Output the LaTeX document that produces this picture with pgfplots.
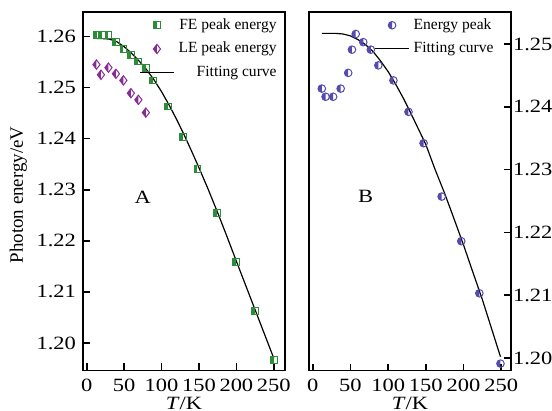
\documentclass[border=0pt]{standalone}
\usepackage{fontspec}
\setmainfont[FakeStretch=1.2]{Liberation Serif}
\newfontfamily\plainserif{Liberation Serif}
\usepackage{pgfplots}
\pgfplotsset{compat=1.18}

\definecolor{feg}{RGB}{45,140,55}
\definecolor{lep}{RGB}{135,45,150}
\definecolor{epb}{RGB}{85,75,175}

% marks with the left half filled
\pgfdeclareplotmark{lsquare}{%
  \pgfpathrectangle{\pgfqpoint{-\pgfplotmarksize}{-\pgfplotmarksize}}{\pgfqpoint{\pgfplotmarksize}{2\pgfplotmarksize}}%
  \pgfusepathqfill
  \pgfpathrectangle{\pgfqpoint{-\pgfplotmarksize}{-\pgfplotmarksize}}{\pgfqpoint{2\pgfplotmarksize}{2\pgfplotmarksize}}%
  \pgfusepathqstroke}
\pgfdeclareplotmark{ldiamond}{%
  \pgfpathmoveto{\pgfqpoint{0pt}{1.3\pgfplotmarksize}}%
  \pgfpathlineto{\pgfqpoint{-\pgfplotmarksize}{0pt}}%
  \pgfpathlineto{\pgfqpoint{0pt}{-1.3\pgfplotmarksize}}%
  \pgfpathclose\pgfusepathqfill
  \pgfpathmoveto{\pgfqpoint{0pt}{1.3\pgfplotmarksize}}%
  \pgfpathlineto{\pgfqpoint{-\pgfplotmarksize}{0pt}}%
  \pgfpathlineto{\pgfqpoint{0pt}{-1.3\pgfplotmarksize}}%
  \pgfpathlineto{\pgfqpoint{\pgfplotmarksize}{0pt}}%
  \pgfpathclose\pgfusepathqstroke}
\pgfdeclareplotmark{lcircle}{%
  \pgfpathmoveto{\pgfqpoint{0pt}{\pgfplotmarksize}}%
  \pgfpatharc{90}{270}{\pgfplotmarksize}%
  \pgfpathclose\pgfusepathqfill
  \pgfpathcircle{\pgfpointorigin}{\pgfplotmarksize}%
  \pgfusepathqstroke}

\pgfplotsset{
  panel/.style={
    scale only axis, width=101bp, height=179.25bp,
    xtick={0,50,...,250},
    tick align=inside, xtick pos=bottom,
    major tick length=3.5bp,
    axis line style={line width=0.9pt},
    every tick/.style={black, line width=0.8pt},
    tick label style={font=\fontsize{9.4}{10}\selectfont},
    xticklabel style={yshift=-1bp},
    label style={font=\fontsize{9.4}{11}\selectfont},
    /pgf/number format/assume math mode=true,
    yticklabel style={/pgf/number format/.cd, fixed, fixed zerofill, precision=2, /tikz/.cd},
    legend style={draw=none, fill=none, font=\plainserif\fontsize{7.8}{8.5}\selectfont,
      row sep=1bp, inner sep=1pt, anchor=north east},
    xlabel={\textit{T}/K},
    xlabel style={yshift=4.5bp},
  },
  fitline/.style={black, line width=0.6pt, no marks},
}

\begin{document}
\begin{tikzpicture}
% panel A
\begin{axis}[panel, at={(41.5bp,20.25bp)}, anchor=south west,
  xmin=-5, xmax=265, ymin=1.1946, ymax=1.2648,
  ytick={1.20,1.21,...,1.265}, ytick pos=left,
  ylabel={Photon energy/eV},
  ylabel style={font=\plainserif\fontsize{9.5}{11}\selectfont,
    at={(axis description cs:-0.32,0.49)}, anchor=center},
  legend style={at={(0.99,1.0)}},
  legend cell align=right,
]
\addplot[only marks, mark=lsquare, mark size=1.7bp,
  mark options={draw=feg, fill=feg, line width=0.5pt}]
  coordinates {
  (14,1.2603) (20,1.2603) (29,1.2603) (39,1.2589) (49,1.2576) (59,1.2564)
  (69,1.2551) (79,1.2539) (89,1.2514) (109,1.2463) (129,1.2404) (148,1.2340)
  (174,1.2255) (199,1.2159) (225,1.2062) (250,1.1967)
  };
\addlegendentry{FE peak energy}
\addplot[only marks, mark=ldiamond, mark size=1.8bp,
  mark options={draw=lep, fill=lep, line width=0.5pt}]
  coordinates {
  (13,1.2545) (19,1.2525) (29,1.2539) (39,1.2527) (49,1.2514) (59,1.2489)
  (69,1.2476) (79,1.2451)
  };
\addlegendentry{LE peak energy}
\addplot[fitline] coordinates {
  (13,1.2596) (20,1.2596) (30,1.2595) (40,1.2590) (50,1.2580) (60,1.2567)
  (70,1.2552) (80,1.2535) (90,1.2515) (100,1.2492) (110,1.2466) (120,1.2438)
  (130,1.2408) (140,1.2376) (150,1.2343) (162,1.2302) (175,1.2255) (187,1.2210)
  (200,1.2160) (225,1.2065) (250,1.1970)
  };
\addlegendentry{Fitting curve}
\node[font=\fontsize{9.4}{11}\selectfont] at (axis cs:75,1.2286) {A};
\end{axis}
% panel B
\begin{axis}[panel, at={(154.5bp,20.25bp)}, anchor=south west,
  xmin=-5, xmax=263, ymin=1.198, ymax=1.2551,
  ytick={1.20,1.21,...,1.255}, ytick pos=right, yticklabel pos=right,
  yticklabel style={xshift=-2.5bp},
  legend style={at={(0.945,1.0)}},
  legend cell align=left,
]
\addplot[only marks, mark=lcircle, mark size=1.9bp,
  mark options={draw=epb, fill=epb, line width=0.5pt}]
  coordinates {
  (12,1.2429) (17,1.2416) (27,1.2416) (37,1.2429) (47,1.2454) (52,1.2491)
  (57,1.2516) (67,1.2503) (77,1.2491) (87,1.2466) (107,1.2442) (127,1.2392)
  (147,1.2342) (171,1.2257) (197,1.2186) (221,1.2103) (249,1.1991)
  };
\addlegendentry{Energy peak}
\addplot[fitline] coordinates {
  (12,1.2517) (30,1.2517) (40,1.2516) (50,1.2513) (60,1.2507) (70,1.2499)
  (80,1.2488) (90,1.2473) (100,1.2456) (110,1.2436) (120,1.2414) (130,1.2390)
  (140,1.2365) (150,1.2340) (162,1.2301) (175,1.2262) (187,1.2223)
  (200,1.2180) (212,1.2138) (225,1.2093) (249,1.2002)
  };
\addlegendentry{Fitting curve}
\node[font=\fontsize{9.4}{11}\selectfont] at (axis cs:70,1.2258) {B};
\end{axis}
\pgfresetboundingbox
\useasboundingbox (0,0) rectangle (276bp,205.5bp);
\end{tikzpicture}
\end{document}
